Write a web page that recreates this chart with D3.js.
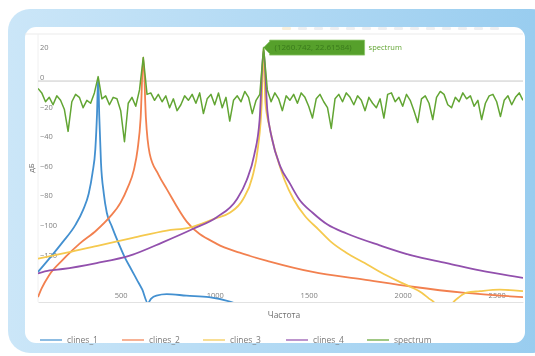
<!DOCTYPE html>
<html>
<head>
<meta charset="utf-8">
<script src="https://cdn.jsdelivr.net/npm/d3@7"></script>
<style>
  html, body { margin: 0; padding: 0; background: #fff; }
  svg { display: block; font-family: "Open Sans", sans-serif; filter: blur(0.4px); }
</style>
</head>
<body>
<div id="chart"></div>
<script>
// values
const xTicks = [500, 1000, 1500, 2000, 2500];
const yTicks = [20, 0, -20, -40, -60, -80, -100, -120];
const seriesNames = ['clines_1', 'clines_2', 'clines_3', 'clines_4', 'spectrum'];
const seriesColors = ['#4390d0', '#f2804f', '#f5c94e', '#9250ad', '#62a533'];

// [frequency, dB]
const clines1 = [[60, -129], [120, -120], [190, -109], [260, -97], [300, -87], [330, -76], [350, -62],
  [365, -46], [374, -22], [380, 2], [386, -24], [395, -55], [410, -76], [426, -89], [452, -98],
  [490, -110], [521, -119], [555, -127], [585, -134], [615, -141], [644, -150], [662, -147],
  [690, -145], [745, -144], [850, -145], [970, -146], [1080, -149], [1125, -151]];

const clines2 = [[60, -146], [80, -140], [120, -131], [190, -121], [280, -110], [370, -101],
  [441, -92], [500, -82], [537, -72], [570, -60], [590, -46], [606, -25], [620, 16], [634, -25],
  [654, -49], [700, -63], [745, -73], [851, -95], [1011, -110], [1133, -116], [1293, -122],
  [1521, -129], [1787, -134], [2053, -139], [2319, -143], [2640, -146]];

const clines3 = [[60, -120], [213, -116], [388, -111], [564, -106], [745, -101], [867, -99],
  [1000, -93], [1080, -89], [1150, -80], [1200, -65], [1230, -45], [1250, -15], [1260, 22],
  [1270, -15], [1290, -30], [1303, -38], [1340, -55], [1372, -67], [1420, -80], [1479, -91],
  [1550, -100], [1622, -109], [1700, -116], [1798, -123], [1880, -129], [1973, -135], [2040, -139],
  [2101, -143], [2140, -147], [2170, -150], [2195, -156], [2230, -158], [2266, -150], [2300, -146],
  [2340, -143], [2410, -142], [2516, -141], [2640, -142]];

const clines4 = [[60, -130], [122, -128], [191, -127], [372, -123], [548, -118], [723, -109],
  [883, -100], [1011, -92], [1117, -80], [1170, -67], [1210, -50], [1239, -26], [1260, 21],
  [1280, -20], [1303, -38], [1350, -58], [1399, -69], [1450, -80], [1521, -89], [1600, -97],
  [1702, -103], [1878, -111], [2053, -118], [2234, -123], [2410, -128], [2640, -133]];

// spectrum sampled every 20 Hz from 60 Hz
const spectrumStart = 60;
const spectrumStep = 20;
const spectrumDb = [
  -5, -8, -14, -11, -16, -10, -13, -19, -34, -14,
  -9, -11, -18, -13, -15, -8, 3, -12, -10, -16,
  -11, -12, -20, -41, -15, -11, -17, -6, 16, -9,
  -8, -13, -9, -14, -10, -18, -12, -20, -16, -10,
  -13, -9, -15, -8, -22, -12, -9, -16, -8, -18,
  -11, -27, -13, -10, -14, -7, -11, -22, -13, -9,
  22.6, -6, -14, -8, -12, -20, -10, -13, -9, -15,
  -8, -11, -17, -25, -12, -9, -14, -18, -32, -12,
  -9, -14, -8, -11, -16, -10, -13, -20, -11, -15,
  -18, -12, -25, -9, -8, -14, -11, -17, -9, -13,
  -20, -28, -12, -10, -15, -26, -11, -7, -9, -16,
  -18, -11, -14, -8, -12, -10, -17, -13, -26, -15,
  -10, -9, -14, -24, -13, -10, -16, -11, -8, -13
];
const hoverIndex = 60;
const hoverText = '(1260.742, 22.61584)';

const xTitle = 'Частота';
const yTitle = 'дБ';

function draw() {
  const width = 535;
  const height = 356;
  const plot = { left: 38, right: 523, top: 34, bottom: 302 };

  const svg = d3.select('#chart')
    .append('svg')
    .attr('width', width)
    .attr('height', height);

  const defs = svg.append('defs');
  const grad = defs.append('linearGradient').attr('id', 'frame-grad');
  grad.append('stop').attr('offset', '0%').attr('stop-color', '#cbe6f8');
  grad.append('stop').attr('offset', '100%').attr('stop-color', '#97ccef');
  defs.append('clipPath').attr('id', 'plot-clip')
    .append('rect')
    .attr('x', plot.left).attr('y', plot.top)
    .attr('width', plot.right - plot.left).attr('height', plot.bottom - plot.top);

  // card frame
  svg.append('rect')
    .attr('x', 8).attr('y', 9).attr('width', 545).attr('height', 344)
    .attr('rx', 22).attr('fill', 'url(#frame-grad)');
  svg.append('rect')
    .attr('x', 25).attr('y', 27).attr('width', 500).attr('height', 316)
    .attr('rx', 11).attr('fill', '#fff');

  // faint modebar
  const modebar = svg.append('g').attr('opacity', 0.25);
  d3.range(14).forEach(i => {
    modebar.append('rect')
      .attr('x', 282 + i * 16).attr('y', 27).attr('width', 9).attr('height', 3)
      .attr('rx', 1).attr('fill', i === 0 ? '#e8c77a' : '#b9c3cc');
  });

  const x = d3.scaleLinear()
    .domain([60, 2640])
    .range([plot.left, plot.right]);

  const y = d3.scaleLinear()
    .domain([-149.3, 31.8])
    .range([plot.bottom, plot.top]);

  // plot frame
  svg.append('line')
    .attr('x1', 25).attr('x2', plot.right)
    .attr('y1', plot.top).attr('y2', plot.top)
    .attr('stroke', '#ebebeb');
  svg.append('line')
    .attr('x1', plot.left).attr('x2', plot.left)
    .attr('y1', plot.top).attr('y2', plot.bottom)
    .attr('stroke', '#f0f0f0');

  // zero line
  svg.append('line')
    .attr('x1', plot.left).attr('x2', plot.right)
    .attr('y1', y(0)).attr('y2', y(0))
    .attr('stroke', '#c8c8c8').attr('stroke-width', 1);

  // axes, labels sit inside the plot
  const yAxis = svg.append('g')
    .attr('transform', `translate(${plot.left},0)`)
    .call(d3.axisRight(y).tickValues(yTicks).tickSize(0).tickPadding(2));
  yAxis.select('.domain').remove();
  yAxis.selectAll('text')
    .attr('dy', '-0.2em')
    .attr('font-size', 7.5)
    .attr('font-family', '"Open Sans", sans-serif')
    .attr('fill', '#808080');

  const xAxis = svg.append('g')
    .attr('transform', `translate(0,${plot.bottom})`)
    .call(d3.axisBottom(x).tickValues(xTicks).tickSize(0).tickFormat(d3.format('d')));
  xAxis.select('.domain').attr('stroke', '#e2e2e2');
  xAxis.selectAll('text')
    .attr('y', -4)
    .attr('dy', 0)
    .attr('font-size', 7.5)
    .attr('font-family', '"Open Sans", sans-serif')
    .attr('fill', '#808080');

  svg.append('text')
    .attr('x', 284).attr('y', 318)
    .attr('text-anchor', 'middle')
    .attr('font-size', 8.5)
    .attr('fill', '#707070')
    .text(xTitle);

  svg.append('text')
    .attr('transform', 'translate(34,168) rotate(-90)')
    .attr('text-anchor', 'middle')
    .attr('font-size', 8)
    .attr('fill', '#707070')
    .text(yTitle);

  const line = d3.line()
    .x(d => x(d[0]))
    .y(d => y(d[1]))
    .curve(d3.curveMonotoneX);

  const spectrum = spectrumDb.map((v, i) => [spectrumStart + i * spectrumStep, v]);
  const series = [clines1, clines2, clines3, clines4, spectrum];

  const lines = svg.append('g').attr('clip-path', 'url(#plot-clip)');
  series.forEach((s, i) => {
    lines.append('path')
      .datum(s)
      .attr('fill', 'none')
      .attr('stroke', seriesColors[i])
      .attr('stroke-width', i === 4 ? 1.5 : 1.8)
      .attr('stroke-linejoin', 'round')
      .attr('d', i === 4 ? d3.line().x(d => x(d[0])).y(d => y(d[1]))(s) : line(s));
  });

  // hover label on the spectrum peak
  const hp = spectrum[hoverIndex];
  const hx = x(hp[0]);
  const hy = y(hp[1]);
  const boxW = 95;
  const boxH = 15;
  const hover = svg.append('g').attr('transform', `translate(${hx},${hy})`);
  hover.append('path')
    .attr('d', `M0,0L6,-6V${-boxH / 2}H${6 + boxW}V${boxH / 2}H6V6Z`)
    .attr('fill', '#56a02b')
    .attr('stroke', '#8cc66a').attr('stroke-width', 0.8);
  hover.append('text')
    .attr('x', 11).attr('y', 2.8)
    .attr('font-size', 8)
    .attr('fill', '#3a7a1c')
    .text(hoverText);
  hover.append('text')
    .attr('x', boxW + 10).attr('y', 2.8)
    .attr('font-size', 7.5)
    .attr('fill', seriesColors[4])
    .text(seriesNames[4]);

  // legend
  const legendX = [40, 122, 203, 286, 367];
  const legend = svg.append('g').attr('transform', 'translate(0,340)');
  seriesNames.forEach((name, i) => {
    const g = legend.append('g').attr('transform', `translate(${legendX[i]},0)`);
    g.append('line')
      .attr('x1', 0).attr('x2', 22)
      .attr('stroke', seriesColors[i]).attr('stroke-width', 2)
      .attr('opacity', 0.6);
    g.append('text')
      .attr('x', 27).attr('y', 3)
      .attr('font-size', 8.5)
      .attr('fill', '#7a7a7a')
      .text(name);
  });
}

draw();
</script>
</body>
</html>
